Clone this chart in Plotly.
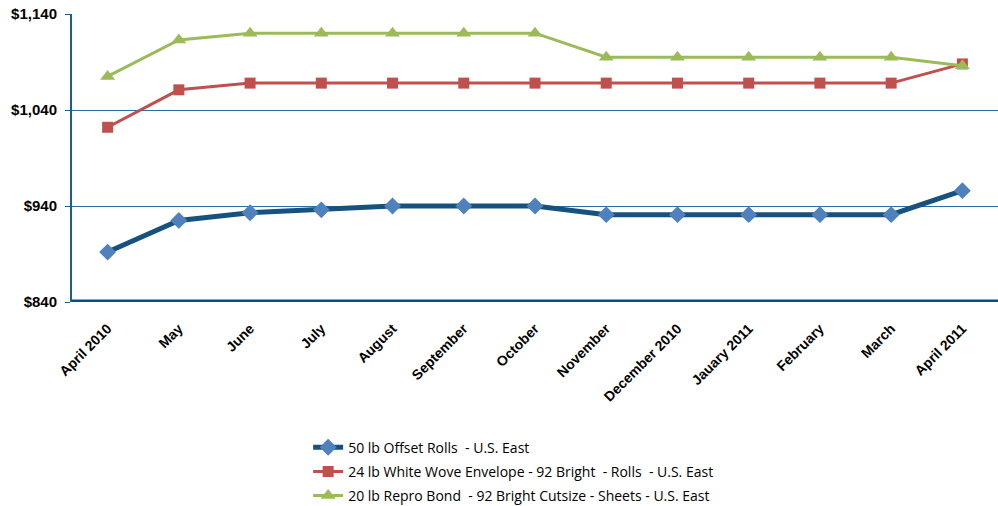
import plotly.graph_objects as go

months = ["April 2010", "May", "June", "July", "August", "September", "October",
          "November", "December 2010", "Jauary 2011", "February", "March", "April 2011"]

offset_rolls = [892, 925, 933, 936, 940, 940, 940, 931, 931, 931, 931, 931, 956]
envelope_rolls = [1022, 1061, 1068, 1068, 1068, 1068, 1068, 1068, 1068, 1068, 1068, 1068, 1088]
repro_bond = [1075, 1113, 1120, 1120, 1120, 1120, 1120, 1095, 1095, 1095, 1095, 1095, 1086]

series_names = [
    "50 lb Offset Rolls  - U.S. East",
    "24 lb White Wove Envelope - 92 Bright  - Rolls  - U.S. East",
    "20 lb Repro Bond  - 92 Bright Cutsize - Sheets - U.S. East",
]

y_ticks = [840, 940, 1040, 1140]
y_tick_labels = ["$840", "$940", "$1,040", "$1,140"]

fig = go.Figure()
fig.add_trace(go.Scatter(
    x=months, y=offset_rolls, name=series_names[0], mode="lines+markers",
    legendgroup="a",
    line=dict(color="#17527F", width=5),
    marker=dict(symbol="diamond", size=13, color="#4F81BD"),
))
fig.add_trace(go.Scatter(
    x=months, y=envelope_rolls, name=series_names[1], mode="lines+markers",
    legendgroup="b",
    line=dict(color="#C0504D", width=3),
    marker=dict(symbol="square", size=11, color="#C0504D"),
))
fig.add_trace(go.Scatter(
    x=months, y=repro_bond, name=series_names[2], mode="lines+markers",
    legendgroup="c",
    line=dict(color="#9BBB59", width=3),
    marker=dict(symbol="triangle-up", size=13, color="#9BBB59"),
))

fig.update_layout(
    width=998, height=506,
    margin=dict(l=72, r=0, t=14, b=204, autoexpand=False),
    plot_bgcolor="white", paper_bgcolor="white",
    showlegend=True,
    legend=dict(
        x=0.255, y=-0.45, xanchor="left", yanchor="top",
        font=dict(family="Open Sans", size=14, color="black"),
        tracegroupgap=3, itemwidth=30,
    ),
    xaxis=dict(
        type="category", tickangle=-45,
        tickfont=dict(family="Liberation Sans", size=14, color="black", weight="bold"),
        showgrid=False, showline=False, zeroline=False,
        ticks="outside", ticklen=12, tickcolor="rgba(0,0,0,0)",
        range=[-0.5, 12.5],
    ),
    yaxis=dict(
        range=[840, 1140], tickvals=y_ticks, ticktext=y_tick_labels,
        tickfont=dict(family="Liberation Sans", size=15, color="black", weight="bold"),
        showgrid=True, gridcolor="#2E6DA4", gridwidth=1,
        showline=True, linecolor="#1F5C8B", linewidth=2,
        ticks="outside", ticklen=5, tickcolor="#1F5C8B",
        ticklabelstandoff=5,
        zeroline=False,
    ),
)

# heavy baseline along the bottom of the plot area
fig.add_shape(type="line", xref="paper", yref="y", x0=0, x1=1, y0=840, y1=840,
              line=dict(color="#00508C", width=5), layer="above")

fig.write_html("out.html")
